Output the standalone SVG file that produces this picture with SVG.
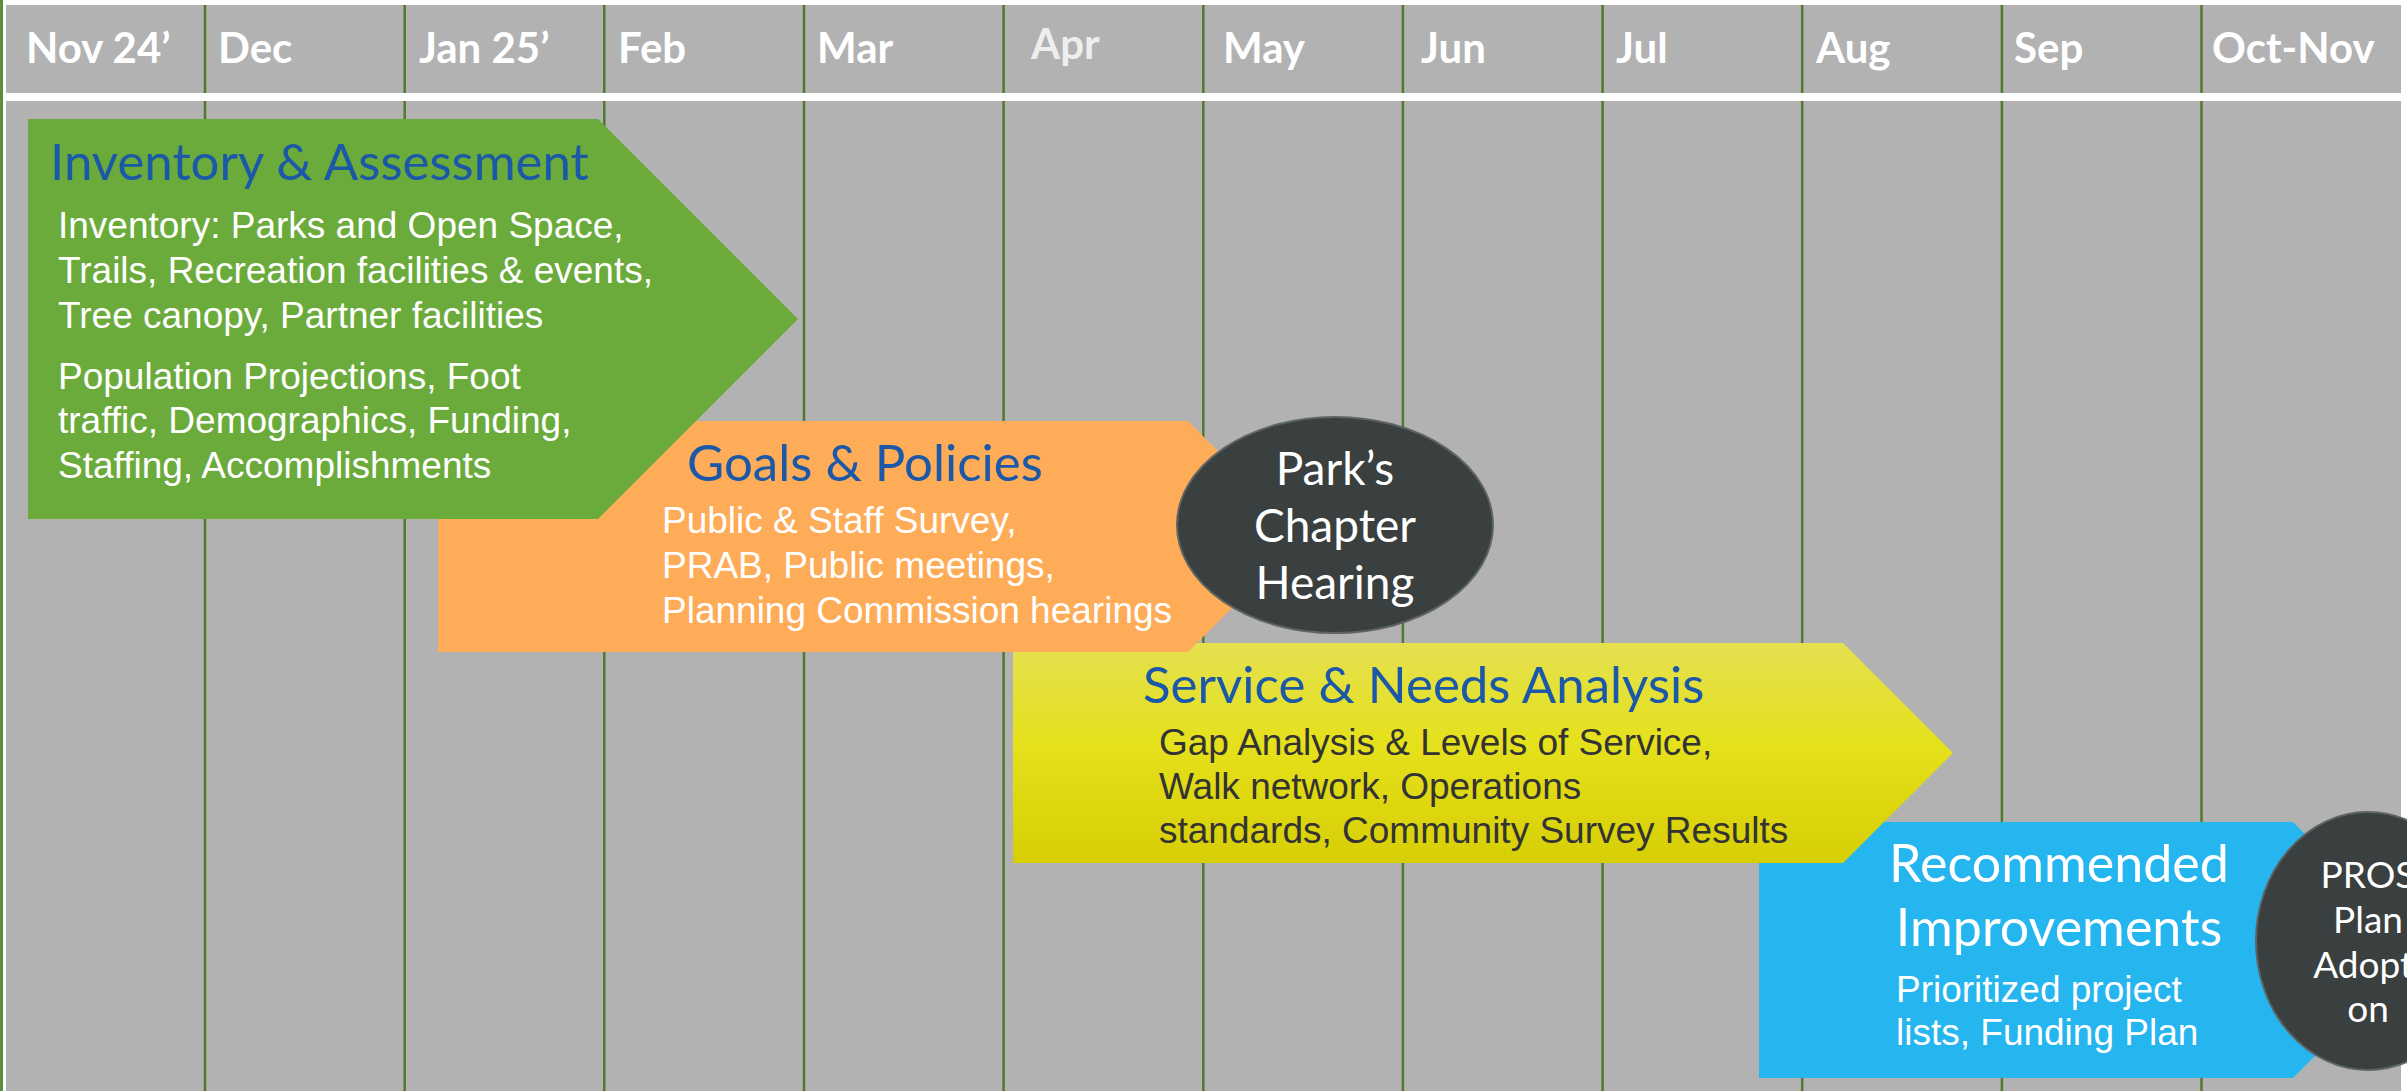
<svg xmlns="http://www.w3.org/2000/svg" width="2407" height="1091" viewBox="0 0 2407 1091">
<defs>
<style>
.hdr{font-family:Lato,"Liberation Sans",sans-serif;font-weight:700;font-size:42px;fill:#ffffff}
.ttl{font-family:Lato,"Liberation Sans",sans-serif;font-size:51px;fill:#1B59A8}
.ttlw{font-family:Lato,"Liberation Sans",sans-serif;font-size:52px;fill:#ffffff;text-anchor:middle}
.body{font-family:"Liberation Sans",Arial,sans-serif;font-size:37px;fill:#ffffff}
.dark{fill:#333333}
.grid line{stroke:#4E7B2A;stroke-width:2.5}
.circ{fill:#3A3F40;stroke:#5E6364;stroke-width:2}
.ctext{font-family:Lato,"Liberation Sans",sans-serif;font-size:46px;fill:#ffffff;text-anchor:middle}
.ctext2{font-family:Lato,"Liberation Sans",sans-serif;font-size:37px;fill:#ffffff;text-anchor:middle}
</style>
<linearGradient id="yel" x1="0" y1="0" x2="0" y2="1">
<stop offset="0" stop-color="#E4E050"/>
<stop offset="0.45" stop-color="#E5E11C"/>
<stop offset="1" stop-color="#D7CE05"/>
</linearGradient>
</defs>
<rect x="0" y="0" width="2407" height="1091" fill="#ffffff"/>
<rect x="0" y="0" width="3" height="1091" fill="#5A8F3A"/>
<g id="background">
<rect x="6" y="5" width="2395" height="88" fill="#B2B2B3"/>
<rect x="6" y="101" width="2395" height="990" fill="#B2B2B3"/>
</g>
<g class="grid" id="grid">
<line x1="205" y1="5" x2="205" y2="1091"/>
<line x1="404.7" y1="5" x2="404.7" y2="1091"/>
<line x1="604.3" y1="5" x2="604.3" y2="1091"/>
<line x1="804" y1="5" x2="804" y2="1091"/>
<line x1="1003.6" y1="5" x2="1003.6" y2="1091"/>
<line x1="1203.3" y1="5" x2="1203.3" y2="1091"/>
<line x1="1402.9" y1="5" x2="1402.9" y2="1091"/>
<line x1="1602.6" y1="5" x2="1602.6" y2="1091"/>
<line x1="1802.2" y1="5" x2="1802.2" y2="1091"/>
<line x1="2001.9" y1="5" x2="2001.9" y2="1091"/>
<line x1="2201.5" y1="5" x2="2201.5" y2="1091"/>
</g>
<rect x="6" y="93" width="2395" height="8" fill="#ffffff"/>
<g id="header">
<text class="hdr" x="26" y="63">Nov 24’</text>
<text class="hdr" x="218" y="63">Dec</text>
<text class="hdr" x="419" y="63">Jan 25’</text>
<text class="hdr" x="618" y="63">Feb</text>
<text class="hdr" x="817" y="63">Mar</text>
<text class="hdr" x="1031" y="59" style="fill:#EEEEEE">Apr</text>
<text class="hdr" x="1223" y="63">May</text>
<text class="hdr" x="1421" y="63">Jun</text>
<text class="hdr" x="1616" y="63">Jul</text>
<text class="hdr" x="1816" y="63">Aug</text>
<text class="hdr" x="2014" y="63">Sep</text>
<text class="hdr" x="2212" y="63">Oct-Nov</text>
</g>
<g id="recommended-improvements">
<polygon points="1759,822 2293,822 2421,950 2293,1078 1759,1078" fill="#25B5EF"/>
<text class="ttlw" x="2059" y="882">Recommended</text>
<text class="ttlw" x="2059" y="946">Improvements</text>
<text class="body" x="1896" y="1002">Prioritized project</text>
<text class="body" x="1896" y="1045">lists, Funding Plan</text>
</g>
<g id="pros-plan-adoption">
<ellipse class="circ" cx="2368" cy="941" rx="112" ry="129"/>
<text class="ctext2" x="2368" y="888">PROS</text>
<text class="ctext2" x="2368" y="933">Plan</text>
<text class="ctext2" x="2368" y="978">Adopti</text>
<text class="ctext2" x="2368" y="1022">on</text>
</g>
<g id="service-needs-analysis">
<polygon points="1013,643 1843,643 1953,753 1843,863 1013,863" fill="url(#yel)"/>
<text class="ttl" x="1143" y="703">Service &amp; Needs Analysis</text>
<text class="body dark" x="1159" y="755">Gap Analysis &amp; Levels of Service,</text>
<text class="body dark" x="1159" y="799">Walk network, Operations</text>
<text class="body dark" x="1159" y="843">standards, Community Survey Results</text>
</g>
<g id="goals-policies">
<polygon points="438,421 1188,421 1303,536.5 1188,652 438,652" fill="#FEAC58"/>
<text class="ttl" x="687" y="481">Goals &amp; Policies</text>
<text class="body" x="662" y="533">Public &amp; Staff Survey,</text>
<text class="body" x="662" y="578">PRAB, Public meetings,</text>
<text class="body" x="662" y="623">Planning Commission hearings</text>
</g>
<g id="parks-chapter-hearing">
<ellipse class="circ" cx="1335" cy="525" rx="158" ry="108"/>
<text class="ctext" x="1335" y="485">Park’s</text>
<text class="ctext" x="1335" y="542">Chapter</text>
<text class="ctext" x="1335" y="599">Hearing</text>
</g>
<g id="inventory-assessment">
<polygon points="28,119 598,119 798,319 598,519 28,519" fill="#6AAB3C"/>
<text class="ttl" x="50" y="180">Inventory &amp; Assessment</text>
<text class="body" x="58" y="238">Inventory: Parks and Open Space,</text>
<text class="body" x="58" y="283">Trails, Recreation facilities &amp; events,</text>
<text class="body" x="58" y="328">Tree canopy, Partner facilities</text>
<text class="body" x="58" y="389">Population Projections, Foot</text>
<text class="body" x="58" y="433">traffic, Demographics, Funding,</text>
<text class="body" x="58" y="478">Staffing, Accomplishments</text>
</g>
<g id="connectors"></g>
</svg>
